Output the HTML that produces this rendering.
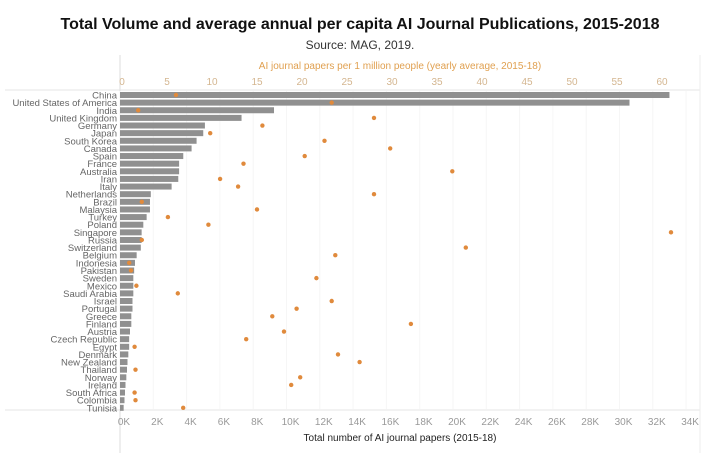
<!DOCTYPE html>
<html><head><meta charset="utf-8"><style>
body{margin:0;background:#fff;width:720px;height:453px;overflow:hidden;font-family:"Liberation Sans",sans-serif}
</style></head><body>
<svg width="720" height="453" font-family="Liberation Sans, sans-serif">
<text x="360" y="29" text-anchor="middle" font-size="16" font-weight="bold" fill="#111">Total Volume and average annual per capita AI Journal Publications, 2015-2018</text>
<text x="360" y="49" text-anchor="middle" font-size="12" fill="#333">Source: MAG, 2019.</text>
<text x="400" y="69" text-anchor="middle" font-size="10" fill="#e0a050">AI journal papers per 1 million people (yearly average, 2015-18)</text>
<text x="400" y="441" text-anchor="middle" font-size="10" fill="#222">Total number of AI journal papers (2015-18)</text>
<line x1="120" y1="55" x2="120" y2="453" stroke="#ddd"/>
<line x1="5" y1="90" x2="700" y2="90" stroke="#e4e4e4"/>
<line x1="5" y1="410" x2="700" y2="410" stroke="#e4e4e4"/>
<line x1="700" y1="55" x2="700" y2="453" stroke="#eee"/>
<g id="g"></g>
</svg>
<script>
const countries=["China","United States of America","India","United Kingdom","Germany","Japan","South Korea","Canada","Spain","France","Australia","Iran","Italy","Netherlands","Brazil","Malaysia","Turkey","Poland","Singapore","Russia","Switzerland","Belgium","Indonesia","Pakistan","Sweden","Mexico","Saudi Arabia","Israel","Portugal","Greece","Finland","Austria","Czech Republic","Egypt","Denmark","New Zealand","Thailand","Norway","Ireland","South Africa","Colombia","Tunisia"];
const totals=[33000,30600,9250,7300,5100,5000,4600,4300,3800,3550,3550,3500,3100,1850,1800,1800,1600,1400,1300,1300,1250,1000,900,850,800,800,800,750,750,680,680,600,550,550,500,450,420,380,330,300,270,220];
const perCapita=[6.0,23.3,1.8,28,15.6,9.8,22.5,29.8,20.3,13.5,36.7,10.9,12.9,28,2.2,15,5.1,9.6,61,2.2,38.2,23.7,0.8,1.0,21.6,1.6,6.2,23.3,19.4,16.7,32.1,18,13.8,1.4,24,26.4,1.5,19.8,18.8,1.4,1.5,6.8];
const bottomTicks=[0,2,4,6,8,10,12,14,16,18,20,22,24,26,28,30,32,34];
const topTicks=[0,5,10,15,20,25,30,35,40,45,50,55,60];
const NS="http://www.w3.org/2000/svg",g=document.getElementById('g');
const xb=v=>120+v*0.01665, xt=v=>122+v*9.0, yr=i=>95+i*7.63;
function mk(t,a,p){const e=document.createElementNS(NS,t);for(const k in a)e.setAttribute(k,a[k]);(p||g).appendChild(e);return e;}
bottomTicks.forEach(t=>{
 const gl=mk('line',{x1:xb(t*1000),x2:xb(t*1000),y1:91,y2:409,stroke:'#f6f6f6'});
 
 
 const tx=mk('text',{x:xb(t*1000)+4,y:425,'text-anchor':'middle','font-size':10,fill:'#999'});tx.textContent=t+'K';
 
 
});
topTicks.forEach(t=>{
 const tx=mk('text',{x:xt(t),y:85,'text-anchor':'middle','font-size':10,fill:'#d4b690'});tx.textContent=t;
 
 
});
countries.forEach((c,i)=>{
 const y=yr(i);
 const l=mk('text',{x:117,y:y+3.5,'text-anchor':'end','font-size':9.5,fill:'#666'});l.textContent=c;
 
 
 const b=mk('rect',{x:120,y:y-3,width:xb(totals[i])-120,height:6,fill:'#909090'});
 
 
 const d=mk('circle',{cx:xt(perCapita[i]),cy:y,r:2.2,fill:'#e08a3c'});
 
 
});
</script>
</body></html>
